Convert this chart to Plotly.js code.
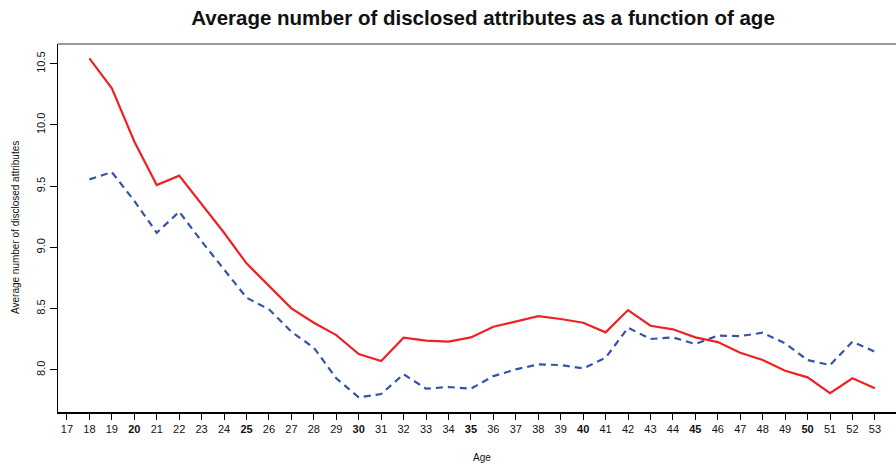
<!DOCTYPE html>
<html>
<head>
<meta charset="utf-8">
<script src="https://cdn.plot.ly/plotly-3.0.1.min.js"></script>
<style>html,body{margin:0;padding:0;background:#fff;}#chart{width:896px;height:467px;}</style>
</head>
<body>
<div id="chart"></div>
<script>
const ages = [18,19,20,21,22,23,24,25,26,27,28,29,30,31,32,33,34,35,36,37,38,39,40,41,42,43,44,45,46,47,48,49,50,51,52,53];
const redValues = [10.544,10.30,9.865,9.51,9.586,9.35,9.12,8.87,8.69,8.503,8.386,8.285,8.13,8.073,8.263,8.239,8.231,8.266,8.353,8.394,8.44,8.416,8.386,8.307,8.489,8.361,8.332,8.266,8.228,8.141,8.081,7.994,7.94,7.81,7.932,7.85];
const blueValues = [9.556,9.615,9.38,9.12,9.292,9.05,8.82,8.59,8.495,8.312,8.182,7.932,7.777,7.804,7.965,7.847,7.861,7.847,7.95,8.005,8.046,8.04,8.013,8.10,8.345,8.253,8.266,8.212,8.28,8.277,8.304,8.217,8.081,8.04,8.231,8.149];
const xTickVals = [17,18,19,20,21,22,23,24,25,26,27,28,29,30,31,32,33,34,35,36,37,38,39,40,41,42,43,44,45,46,47,48,49,50,51,52,53];
const xTickText = xTickVals.map(v => v % 5 === 0 ? '<b>' + v + '</b>' : String(v));
const yTickVals = [8.0, 8.5, 9.0, 9.5, 10.0, 10.5];
const yTickText = ['8.0','8.5','9.0','9.5','10.0','10.5'];

const font = 'Liberation Sans, Arial, Helvetica, sans-serif';

const traces = [
  {x: ages, y: blueValues, type: 'scatter', mode: 'lines',
   line: {color: '#3553a8', width: 2.2, dash: '7px,5px'}, hoverinfo: 'skip', showlegend: false},
  {x: ages, y: redValues, type: 'scatter', mode: 'lines',
   line: {color: '#ee2222', width: 2.2}, hoverinfo: 'skip', showlegend: false}
];

const layout = {
  width: 896, height: 467,
  margin: {l: 58, r: 0, t: 44, b: 55},
  paper_bgcolor: '#fff', plot_bgcolor: '#fff',
  font: {family: font, color: '#111', size: 11},
  title: {text: '<b>Average number of disclosed attributes as a function of age</b>',
          font: {family: font, size: 20.5, color: '#111'},
          x: 483/896, xref: 'container', xanchor: 'center',
          y: 1 - 18/467, yref: 'container', yanchor: 'middle'},
  xaxis: {range: [16.6, 53.94], tickmode: 'array', tickvals: xTickVals, ticktext: xTickText,
          showgrid: false, zeroline: false, showline: true, linecolor: '#000', linewidth: 1.5,
          ticks: 'outside', ticklen: 6, tickwidth: 1, tickcolor: '#000',
          tickfont: {family: font, size: 11, color: '#111'}, fixedrange: true},
  yaxis: {range: [7.657, 10.661], tickmode: 'array', tickvals: yTickVals, ticktext: yTickText,
          showgrid: false, zeroline: false, showline: true, linecolor: '#000', linewidth: 1.5,
          ticks: 'outside', ticklen: 7, tickwidth: 1, tickcolor: '#000', tickangle: -90,
          tickfont: {family: font, size: 11, color: '#111'}, fixedrange: true},
  shapes: [
    {type: 'line', xref: 'paper', yref: 'paper', x0: 0, x1: 1, y0: 1, y1: 1,
     line: {color: '#777', width: 1.5}}
  ],
  annotations: [
    {text: 'Age', xref: 'paper', yref: 'paper', x: (482-58)/838, y: 0, yshift: -45,
     xanchor: 'center', yanchor: 'middle', showarrow: false,
     font: {family: font, size: 10, color: '#111'}},
    {text: 'Average number of disclosed attributes', xref: 'paper', yref: 'paper',
     x: 0, xshift: -43, y: 0.5, xanchor: 'center', yanchor: 'middle', textangle: -90,
     showarrow: false, font: {family: font, size: 10, color: '#111'}}
  ]
};

Plotly.newPlot('chart', traces, layout, {staticPlot: true, displayModeBar: false});
</script>
</body>
</html>
